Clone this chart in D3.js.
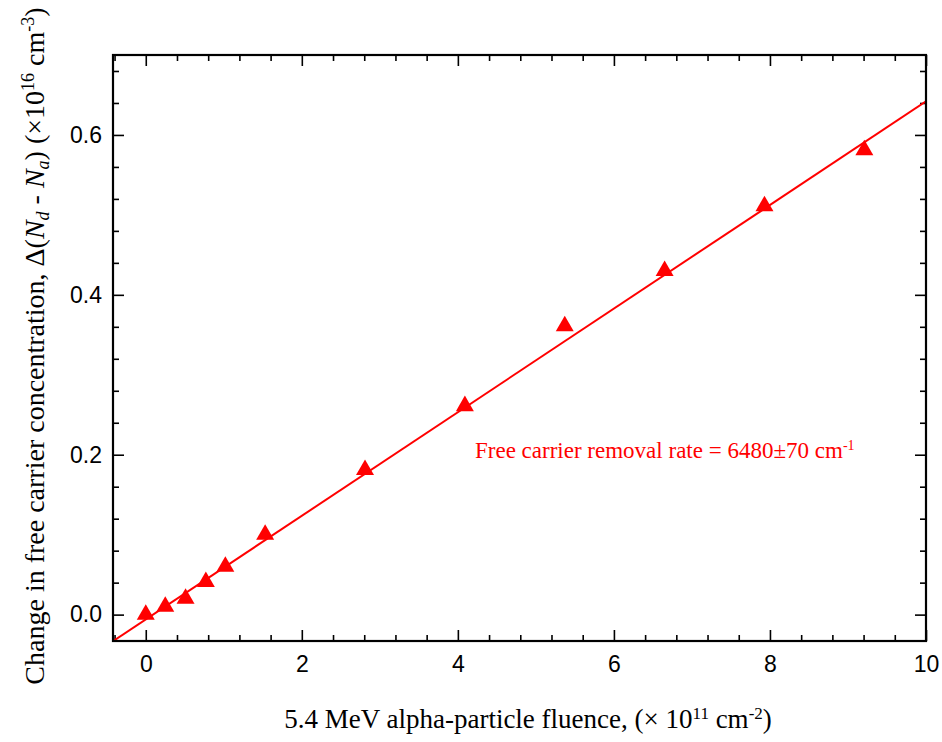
<!DOCTYPE html>
<html>
<head>
<meta charset="utf-8">
<script src="https://cdn.jsdelivr.net/npm/d3@7"></script>
<style>
  body { margin: 0; background: #fff; }
  svg { display: block; }
</style>
</head>
<body>
<svg id="chart" width="942" height="742"></svg>
<script>
// data
var fluence = [0, 0.25, 0.51, 0.77, 1.02, 1.53, 2.81, 4.09, 5.37, 6.65, 7.93, 9.21];
var deltaN  = [0.0, 0.01, 0.02, 0.041, 0.06, 0.10, 0.181, 0.261, 0.361, 0.43, 0.511, 0.581];
var fitSlope = 0.0648, fitIntercept = -0.006;
var xTicks = [0, 2, 4, 6, 8, 10];
var yTicks = [0.0, 0.2, 0.4, 0.6];
var xTitle = "5.4 MeV alpha-particle fluence, (× 10";
var note = "Free carrier removal rate = 6480±70 cm";

var svg = d3.select('#chart');
// plot box (don't call it "top", window.top is read-only)
var pLeft = 113, pRight = 926, pTop = 55, pBottom = 641;

var x = d3.scaleLinear().domain([-0.42, 10]).range([pLeft, pRight]);
var y = d3.scaleLinear().domain([-0.033, 0.7]).range([pBottom, pTop]);

var xMinor = d3.range(-0.4, 10.01, 0.4).filter(function(v){ return Math.abs(v/2 - Math.round(v/2)) > 0.01; });
var yMinor = d3.range(0.04, 0.7, 0.04).filter(function(v){ return Math.abs(v/0.2 - Math.round(v/0.2)) > 0.01; });

function drawAxis(axis, tr){
  var g = svg.append('g').attr('transform', tr).call(axis);
  g.select('.domain').remove();
  g.selectAll('line').attr('stroke', '#000').attr('stroke-width', 1.6);
  return g;
}

// major + minor ticks, inward, mirrored on all four sides
var fmtY = d3.format('.1f');
var gx = drawAxis(d3.axisBottom(x).tickValues(xTicks).tickSizeInner(-11).tickSizeOuter(0).tickPadding(15), 'translate(0,' + pBottom + ')');
gx.selectAll('text').attr('font-family', 'Liberation Sans, Arial, sans-serif').attr('font-size', 23).attr('fill', '#000');
drawAxis(d3.axisBottom(x).tickValues(xMinor).tickSizeInner(-6).tickSizeOuter(0).tickFormat(''), 'translate(0,' + pBottom + ')');
drawAxis(d3.axisTop(x).tickValues(xTicks).tickSizeInner(-11).tickSizeOuter(0).tickFormat(''), 'translate(0,' + pTop + ')');
drawAxis(d3.axisTop(x).tickValues(xMinor).tickSizeInner(-6).tickSizeOuter(0).tickFormat(''), 'translate(0,' + pTop + ')');

var gy = drawAxis(d3.axisLeft(y).tickValues(yTicks).tickFormat(fmtY).tickSizeInner(-11).tickSizeOuter(0).tickPadding(11), 'translate(' + pLeft + ',0)');
gy.selectAll('text').attr('font-family', 'Liberation Sans, Arial, sans-serif').attr('font-size', 23).attr('fill', '#000');
drawAxis(d3.axisLeft(y).tickValues(yMinor).tickSizeInner(-6).tickSizeOuter(0).tickFormat(''), 'translate(' + pLeft + ',0)');
drawAxis(d3.axisRight(y).tickValues(yTicks).tickSizeInner(-11).tickSizeOuter(0).tickFormat(''), 'translate(' + pRight + ',0)');
drawAxis(d3.axisRight(y).tickValues(yMinor).tickSizeInner(-6).tickSizeOuter(0).tickFormat(''), 'translate(' + pRight + ',0)');

// clip for the fit line
svg.append('clipPath').attr('id', 'plot')
  .append('rect').attr('x', pLeft).attr('y', pTop).attr('width', pRight - pLeft).attr('height', pBottom - pTop);

var xd = x.domain();
svg.append('line')
  .attr('clip-path', 'url(#plot)')
  .attr('x1', x(xd[0])).attr('y1', y(fitIntercept + fitSlope * xd[0]))
  .attr('x2', x(xd[1])).attr('y2', y(fitIntercept + fitSlope * xd[1]))
  .attr('stroke', '#ff0000').attr('stroke-width', 2);

var tri = d3.symbol().type(d3.symbolTriangle).size(140);
svg.selectAll('path.pt')
  .data(fluence)
  .enter()
  .append('path')
    .attr('class', 'pt')
    .attr('d', tri)
    .attr('transform', function(d, i){ return 'translate(' + x(d) + ',' + y(deltaN[i]) + ')'; })
    .attr('fill', '#ff0000');

// frame
svg.append('rect')
  .attr('x', pLeft).attr('y', pTop).attr('width', pRight - pLeft).attr('height', pBottom - pTop)
  .attr('fill', 'none').attr('stroke', '#000').attr('stroke-width', 2.2);

// annotation
var t = svg.append('text')
  .attr('x', 475).attr('y', 458)
  .attr('font-family', 'Liberation Serif, Times New Roman, serif')
  .attr('font-size', 23).attr('fill', '#ff0000');
t.append('tspan').text(note);
t.append('tspan').attr('baseline-shift', '55%').attr('font-size', 14).text('-1');

// x title
var xt = svg.append('text')
  .attr('x', 528).attr('y', 728).attr('text-anchor', 'middle')
  .attr('font-family', 'Liberation Serif, Times New Roman, serif')
  .attr('font-size', 27).attr('fill', '#000');
xt.append('tspan').text(xTitle);
xt.append('tspan').attr('baseline-shift', '55%').attr('font-size', 17).text('11');
xt.append('tspan').text(' cm');
xt.append('tspan').attr('baseline-shift', '55%').attr('font-size', 17).text('-2');
xt.append('tspan').text(')');

// y title
var yt = svg.append('text')
  .attr('transform', 'translate(44,346) rotate(-90)')
  .attr('text-anchor', 'middle')
  .attr('font-family', 'Liberation Serif, Times New Roman, serif')
  .attr('font-size', 28).attr('fill', '#000');
yt.append('tspan').text('Change in free carrier concentration, Δ(');
yt.append('tspan').attr('font-style', 'italic').text('N');
yt.append('tspan').attr('font-style', 'italic').attr('baseline-shift', '-25%').attr('font-size', 18).text('d');
yt.append('tspan').text(' - ');
yt.append('tspan').attr('font-style', 'italic').text('N');
yt.append('tspan').attr('font-style', 'italic').attr('baseline-shift', '-25%').attr('font-size', 18).text('a');
yt.append('tspan').text(') (×10');
yt.append('tspan').attr('baseline-shift', '55%').attr('font-size', 18).text('16');
yt.append('tspan').text(' cm');
yt.append('tspan').attr('baseline-shift', '55%').attr('font-size', 18).text('-3');
yt.append('tspan').text(')');
</script>
</body>
</html>
